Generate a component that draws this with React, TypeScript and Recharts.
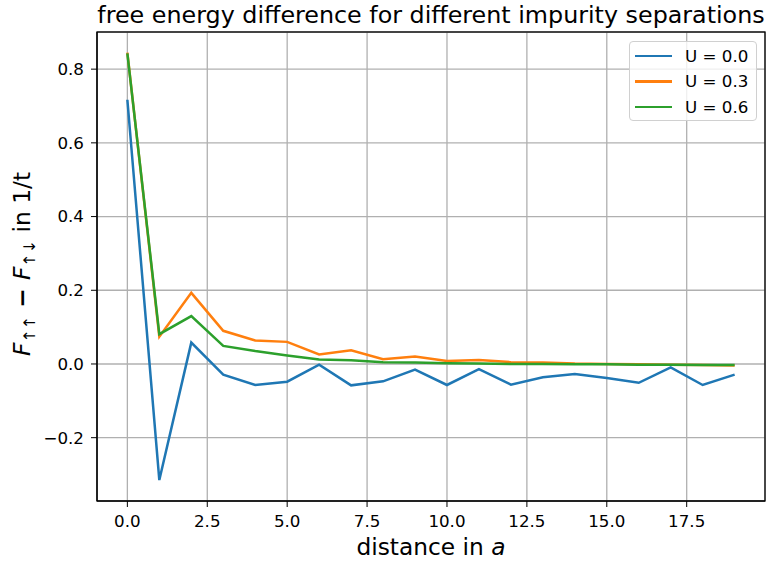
import React from 'react';
import { LineChart, Line, XAxis, YAxis, CartesianGrid, Legend, Customized } from 'recharts';

const distance = [0, 1, 2, 3, 4, 5, 6, 7, 8, 9, 10, 11, 12, 13, 14, 15, 16, 17, 18, 19];
const u00 = [0.717, -0.315, 0.058, -0.029, -0.057, -0.048, -0.002, -0.058, -0.047, -0.015, -0.057, -0.014, -0.056, -0.036, -0.027, -0.038, -0.051, -0.009, -0.057, -0.029];
const u03 = [0.845, 0.074, 0.193, 0.09, 0.064, 0.06, 0.026, 0.037, 0.013, 0.02, 0.008, 0.011, 0.005, 0.004, 0.001, 0.0, -0.001, -0.002, -0.003, -0.004];
const u06 = [0.843, 0.081, 0.13, 0.049, 0.035, 0.023, 0.012, 0.01, 0.005, 0.004, 0.002, 0.001, 0.0, 0.0, -0.001, -0.001, -0.002, -0.002, -0.003, -0.003];

const xTicks = [0, 2.5, 5, 7.5, 10, 12.5, 15, 17.5];
const yTicks = [-0.2, 0, 0.2, 0.4, 0.6, 0.8];

const seriesInfo = [
  { key: 'u00', name: 'U = 0.0', color: '#1f77b4' },
  { key: 'u03', name: 'U = 0.3', color: '#ff7f0e' },
  { key: 'u06', name: 'U = 0.6', color: '#2ca02c' },
];

const data = distance.map((d, i) => ({ d, u00: u00[i], u03: u03[i], u06: u06[i] }));

const font = 'DejaVu Sans, sans-serif';

const fmt = (v: number) => {
  const s = v.toFixed(1);
  return s.startsWith('-') ? '\u2212' + s.slice(1) : s;
};

// plot frame (matplotlib draws all four spines)
const Frame = () => <rect x={97} y={32} width={668} height={469} fill="none" stroke="#000" strokeWidth={1.3} />;

const Title = () => (
  <text x={431} y={23} textAnchor="middle" fontSize={23.8} fontFamily={font} fill="#000">
    free energy difference for different impurity separations
  </text>
);

const YLabel = () => (
  <text
    x={0}
    y={0}
    transform="translate(30, 264) rotate(-90)"
    textAnchor="middle"
    fontSize={23.3}
    fontFamily={font}
    fill="#000"
  >
    <tspan fontStyle="italic">F</tspan>
    <tspan fontSize={16} dy={5}>↑↑</tspan>
    <tspan dy={-5} fontWeight="bold"> − </tspan>
    <tspan fontStyle="italic">F</tspan>
    <tspan fontSize={16} dy={5}>↑↓</tspan>
    <tspan dy={-5}> in 1/t</tspan>
  </text>
);

const XLabel = () => (
  <text x={431} y={555} textAnchor="middle" fontSize={23.3} fontFamily={font} fill="#000">
    distance in <tspan fontStyle="italic">a</tspan>
  </text>
);

const LegendBox = () => (
  <div
    style={{
      width: 128,
      height: 80,
      border: '1px solid #d0d0d0',
      borderRadius: 4,
      background: 'rgba(255,255,255,0.8)',
      boxSizing: 'border-box',
      padding: '1px 0 0 5px',
      fontFamily: font,
      fontSize: 16.7,
    }}
  >
    {seriesInfo.map((s) => (
      <div key={s.key} style={{ display: 'flex', alignItems: 'center', height: 25.5 }}>
        <div style={{ width: 37, height: 2.5, background: s.color, marginRight: 13 }} />
        <span>{s.name}</span>
      </div>
    ))}
  </div>
);

export default function App() {
  return (
    <div style={{ position: 'absolute', left: 0, top: 0, width: 773, height: 562, background: '#fff' }}>
      <LineChart width={773} height={562} data={data} margin={{ top: 32, right: 8, bottom: 0, left: 0 }}>
        <CartesianGrid stroke="#b0b0b0" strokeWidth={1.3} />
        <XAxis
          dataKey="d"
          type="number"
          domain={[-0.95, 19.95]}
          ticks={xTicks}
          tickFormatter={fmt}
          allowDataOverflow
          height={61}
          stroke="#000"
          tickSize={6}
          tickMargin={8}
          tick={{ fontSize: 16.7, fontFamily: font, fill: '#000' }}
          interval={0}
        />
        <YAxis
          type="number"
          domain={[-0.3718, 0.9008]}
          ticks={yTicks}
          tickFormatter={fmt}
          allowDataOverflow
          width={97}
          stroke="#000"
          tickSize={6}
          tickMargin={7}
          tick={{ fontSize: 16.7, fontFamily: font, fill: '#000' }}
          interval={0}
        />
        {seriesInfo.map((s) => (
          <Line
            key={s.key}
            type="linear"
            dataKey={s.key}
            name={s.name}
            stroke={s.color}
            strokeWidth={2.5}
            dot={false}
            activeDot={false}
            isAnimationActive={false}
          />
        ))}
        <Legend
          layout="horizontal"
          verticalAlign="middle"
          align="center"
          content={() => <LegendBox />}
          wrapperStyle={{ position: 'absolute', top: 41, left: 629, width: 128, height: 80 }}
        />
        <Customized component={Frame} />
        <Customized component={Title} />
        <Customized component={YLabel} />
        <Customized component={XLabel} />
      </LineChart>
    </div>
  );
}
